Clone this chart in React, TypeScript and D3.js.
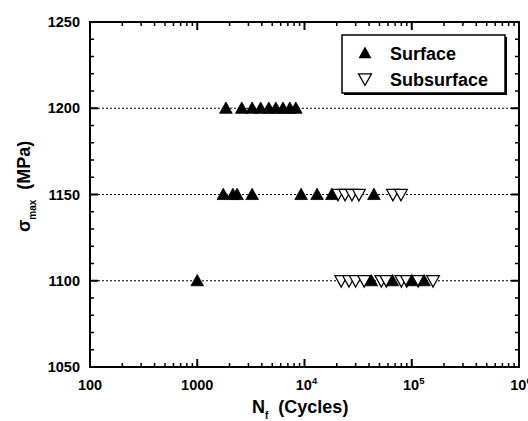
import React from "react";
import * as d3 from "d3";

// Fatigue life data: cycles to failure (N_f) and maximum stress (MPa)
const surfaceCycles = [
  1850, 2600, 3250, 3900, 4650, 5400, 6300, 7300, 8300,
  1750, 2150, 2350, 3250, 9300, 13100, 18000, 44400,
  1000, 42000, 66000, 100000, 130000,
];
const surfaceStress = [
  1200, 1200, 1200, 1200, 1200, 1200, 1200, 1200, 1200,
  1150, 1150, 1150, 1150, 1150, 1150, 1150, 1150,
  1100, 1100, 1100, 1100, 1100,
];
const subsurfaceCycles = [
  20500, 23900, 27700, 32200, 66800, 79400,
  22000, 26000, 30000, 36000, 52000, 58000, 80000, 90000, 115000, 158000,
];
const subsurfaceStress = [
  1150, 1150, 1150, 1150, 1150, 1150,
  1100, 1100, 1100, 1100, 1100, 1100, 1100, 1100, 1100, 1100,
];

const yTicks = [1050, 1100, 1150, 1200, 1250];
const gridLevels = [1100, 1150, 1200];
const xDecades = [100, 1000, 10000, 100000, 1000000];
const legendLabels = ["Surface", "Subsurface"];

const W = 528;
const H = 421;
const left = 90;
const right = 519;
const top = 22;
const bottom = 367;
const FONT = "'Liberation Sans', Arial, Helvetica, sans-serif";

const x = d3.scaleLog().domain([100, 1e6]).range([left, right]);
const y = d3.scaleLinear().domain([1050, 1250]).range([bottom, top]);

const triUp = (cx: number, cy: number, s = 6.3) =>
  `M${cx},${cy - s} L${cx + s},${cy + s * 0.8} L${cx - s},${cy + s * 0.8} Z`;
const triDown = (cx: number, cy: number, s = 6.3) =>
  `M${cx},${cy + s} L${cx + s},${cy - s * 0.8} L${cx - s},${cy - s * 0.8} Z`;

function XTickLabel({ v }: { v: number }) {
  const e = Math.round(Math.log10(v));
  const px = x(v);
  if (e <= 3) {
    return (
      <text x={px} y={390} textAnchor="middle" fontSize={14.5} fontWeight="bold" fontFamily={FONT}>
        {String(v)}
      </text>
    );
  }
  return (
    <text x={px + 2} y={390} textAnchor="middle" fontSize={14.5} fontWeight="bold" fontFamily={FONT}>
      10
      <tspan fontSize={9.5} dy={-6}>{e}</tspan>
    </text>
  );
}

export default function App() {
  const minorX: number[] = [];
  for (let d = 100; d < 1e6; d *= 10) {
    for (let k = 2; k <= 9; k++) minorX.push(d * k);
  }
  const minorY = d3.range(1050, 1251, 10).filter((v) => v % 50 !== 0);

  return (
    <svg
      width={W}
      height={H}
      style={{ position: "absolute", left: 0, top: 0, background: "#fff" }}
    >
      <rect x={0} y={0} width={W} height={H} fill="#fff" />

      {/* reference lines at the tested stress levels */}
      {gridLevels.map((g) => (
        <line
          key={g}
          x1={left}
          x2={right}
          y1={y(g)}
          y2={y(g)}
          stroke="#000"
          strokeWidth={1}
          strokeDasharray="2,2"
        />
      ))}

      {/* subsurface initiation: open down triangles */}
      {subsurfaceCycles.map((n, i) => (
        <path
          key={"s" + i}
          d={triDown(x(n), y(subsurfaceStress[i]))}
          fill="#fff"
          stroke="#000"
          strokeWidth={1.3}
        />
      ))}
      {/* surface initiation: filled up triangles */}
      {surfaceCycles.map((n, i) => (
        <path key={"f" + i} d={triUp(x(n), y(surfaceStress[i]))} fill="#000" stroke="#000" strokeWidth={0.8} />
      ))}

      {/* ticks, inward on all four sides */}
      {xDecades.map((v) => (
        <g key={"xm" + v}>
          <line x1={x(v)} x2={x(v)} y1={bottom} y2={bottom - 8} stroke="#000" strokeWidth={2} />
          <line x1={x(v)} x2={x(v)} y1={top} y2={top + 8} stroke="#000" strokeWidth={2} />
        </g>
      ))}
      {minorX.map((v) => (
        <g key={"xn" + v}>
          <line x1={x(v)} x2={x(v)} y1={bottom} y2={bottom - 4} stroke="#000" strokeWidth={1.5} />
          <line x1={x(v)} x2={x(v)} y1={top} y2={top + 4} stroke="#000" strokeWidth={1.5} />
        </g>
      ))}
      {yTicks.map((v) => (
        <g key={"ym" + v}>
          <line x1={left} x2={left + 8} y1={y(v)} y2={y(v)} stroke="#000" strokeWidth={2} />
          <line x1={right} x2={right - 8} y1={y(v)} y2={y(v)} stroke="#000" strokeWidth={2} />
        </g>
      ))}
      {minorY.map((v) => (
        <g key={"yn" + v}>
          <line x1={left} x2={left + 4} y1={y(v)} y2={y(v)} stroke="#000" strokeWidth={1.5} />
          <line x1={right} x2={right - 4} y1={y(v)} y2={y(v)} stroke="#000" strokeWidth={1.5} />
        </g>
      ))}

      {/* frame */}
      <rect x={left} y={top} width={right - left} height={bottom - top} fill="none" stroke="#000" strokeWidth={2} />

      {/* y tick labels */}
      {yTicks.map((v) => (
        <text
          key={"yl" + v}
          x={80}
          y={y(v) + 5}
          textAnchor="end"
          fontSize={14.5}
          fontWeight="bold"
          fontFamily={FONT}
        >
          {v}
        </text>
      ))}

      {/* x tick labels */}
      {xDecades.map((v) => (
        <XTickLabel key={"xl" + v} v={v} />
      ))}

      {/* axis titles */}
      <text x={252} y={413} fontSize={18} fontWeight="bold" fontFamily={FONT}>
        N
        <tspan fontSize={10} dy={6}>f</tspan>
        <tspan dy={-6} dx={10}>(Cycles)</tspan>
      </text>
      <text
        transform={`translate(30, 232) rotate(-90)`}
        fontSize={18}
        fontWeight="bold"
        fontFamily={FONT}
      >
        σ
        <tspan fontSize={10} dy={6}>max</tspan>
        <tspan dy={-6} dx={10}>(MPa)</tspan>
      </text>

      {/* legend */}
      <rect x={344} y={37} width={163} height={58} fill="#000" />
      <rect x={342} y={35} width={163} height={58} fill="#fff" stroke="#000" strokeWidth={1.5} />
      <path d={triUp(365, 53, 6.5)} fill="#000" />
      <text x={390} y={60} fontSize={18} fontWeight="bold" fontFamily={FONT}>
        {legendLabels[0]}
      </text>
      <path d={triDown(365, 79, 6.5)} fill="#fff" stroke="#000" strokeWidth={1.3} />
      <text x={390} y={86} fontSize={18} fontWeight="bold" fontFamily={FONT}>
        {legendLabels[1]}
      </text>
    </svg>
  );
}
